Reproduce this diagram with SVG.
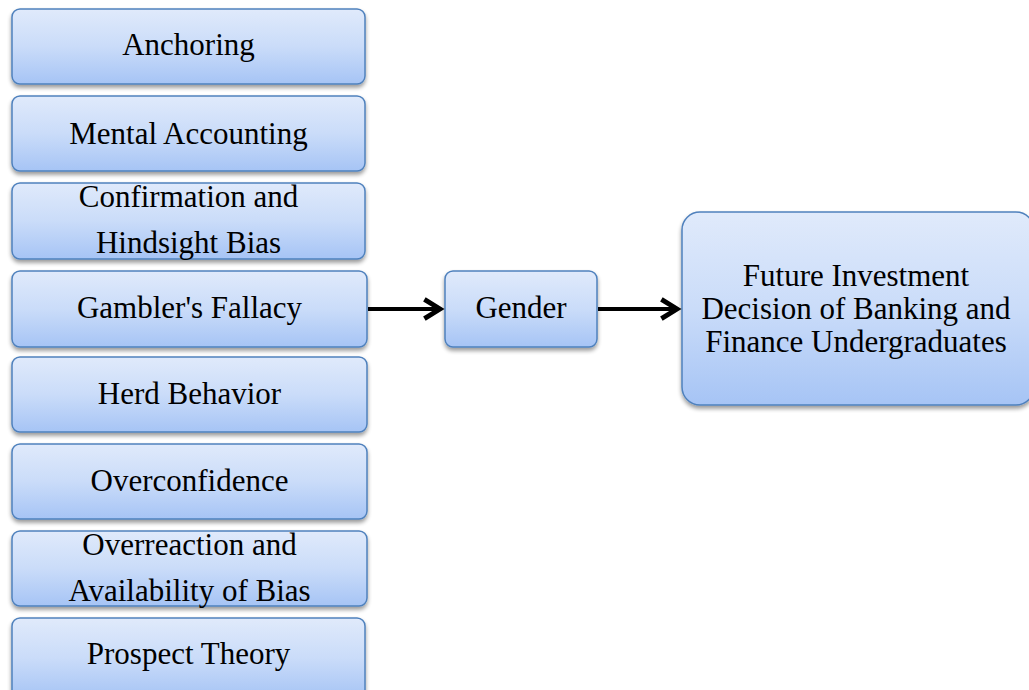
<svg xmlns="http://www.w3.org/2000/svg" width="1029" height="690" viewBox="0 0 1029 690">
<defs>
<linearGradient id="g" x1="0" y1="0" x2="0" y2="1">
<stop offset="0" stop-color="#e0eafb"/>
<stop offset="0.5" stop-color="#cadcf9"/>
<stop offset="1" stop-color="#a6c4f5"/>
</linearGradient>
<filter id="sh" x="-10%" y="-10%" width="120%" height="130%">
<feGaussianBlur in="SourceAlpha" stdDeviation="2"/>
<feOffset dx="0" dy="3" result="b"/>
<feComponentTransfer><feFuncA type="linear" slope="0.4"/></feComponentTransfer>
<feMerge><feMergeNode/><feMergeNode in="SourceGraphic"/></feMerge>
</filter>
<marker id="ah" viewBox="0 0 10 10" refX="8" refY="5" markerWidth="6" markerHeight="6" markerUnits="strokeWidth" orient="auto">
<path d="M1.5,1 L8,5 L1.5,9" fill="none" stroke="#000" stroke-width="2" stroke-linejoin="miter"/>
</marker>
</defs>
<style>
.b{fill:url(#g);stroke:#4f81bd;stroke-width:1.5;filter:url(#sh)}
.t{font-family:"Liberation Serif","Times New Roman",serif;font-size:31px;fill:#000;text-anchor:middle}
.c{stroke:#000;stroke-width:4;fill:none;marker-end:url(#ah)}
</style>
<rect width="1029" height="690" fill="#fff"/>
<g id="anchoring"><rect class="b" x="12" y="9" width="353" height="75" rx="8"/><text class="t" x="188.5" y="55">Anchoring</text></g>
<g id="mental"><rect class="b" x="12" y="96" width="353" height="75" rx="8"/><text class="t" x="188.5" y="144">Mental Accounting</text></g>
<g id="confirmation"><rect class="b" x="12" y="183" width="353" height="76" rx="8"/><text class="t" x="188.5" y="207">Confirmation and</text><text class="t" x="188.5" y="253">Hindsight Bias</text></g>
<g id="gambler"><rect class="b" x="12" y="271" width="355" height="76" rx="8"/><text class="t" x="189.5" y="318">Gambler's Fallacy</text></g>
<g id="herd"><rect class="b" x="12" y="357" width="355" height="75" rx="8"/><text class="t" x="189.5" y="404">Herd Behavior</text></g>
<g id="overconfidence"><rect class="b" x="12" y="444" width="355" height="75" rx="8"/><text class="t" x="189.5" y="491">Overconfidence</text></g>
<g id="overreaction"><rect class="b" x="12" y="531" width="355" height="75" rx="8"/><text class="t" x="189.5" y="555">Overreaction and</text><text class="t" x="189.5" y="601">Availability of Bias</text></g>
<g id="prospect"><rect class="b" x="12" y="618" width="353" height="80" rx="8"/><text class="t" x="188.5" y="664">Prospect Theory</text></g>
<g id="gender"><rect class="b" x="445" y="271" width="152" height="76" rx="8"/><text class="t" x="521" y="318">Gender</text></g>
<g id="future"><rect class="b" x="682" y="212" width="352" height="193" rx="18"/><text class="t" x="856" y="286">Future Investment</text><text class="t" x="856" y="319">Decision of Banking and</text><text class="t" x="856" y="352">Finance Undergraduates</text></g>
<g id="connectors">
<line class="c" x1="368" y1="309" x2="440" y2="309"/>
<line class="c" x1="598" y1="309" x2="677" y2="309"/>
</g>
</svg>
